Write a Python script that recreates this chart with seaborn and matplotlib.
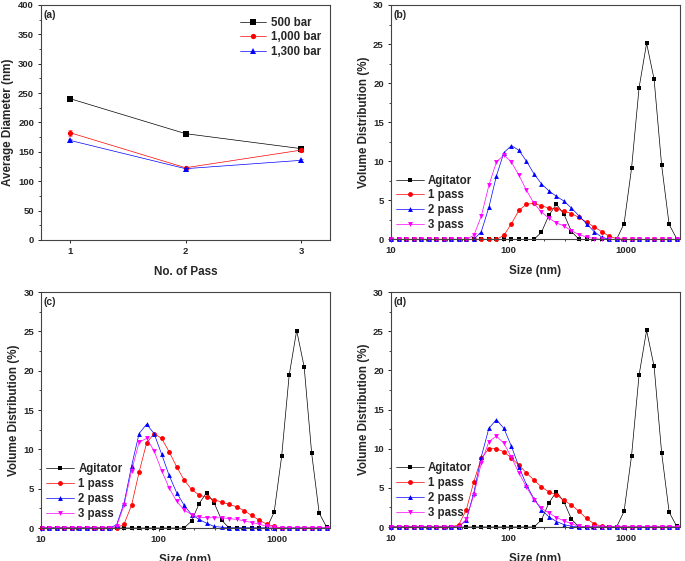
import matplotlib
matplotlib.use("Agg")
from matplotlib import pyplot as plt
from matplotlib.ticker import MultipleLocator, LogLocator, NullFormatter
import pandas as pd
import seaborn as sns

# ------------------------------------------------------------------
# data

passes = [1, 2, 3]
diam_500 = [240.6, 181.0, 155.5]
diam_1000 = [182.7, 123.0, 153.0]
diam_1300 = [169.6, 121.4, 135.6]
err_500 = [4, 3, 3]
err_1000 = [5, 2, 3]
err_1300 = [3, 2, 2]

# size classes of the DLS instrument (nm)
sizes = [10.10, 11.70, 13.54, 15.69, 18.17, 21.04, 24.36, 28.21, 32.67, 37.84,
         43.82, 50.75, 58.77, 68.06, 78.82, 91.28, 105.7, 122.4, 141.8, 164.2,
         190.1, 220.2, 255.0, 295.3, 342.0, 396.1, 458.7, 531.2, 615.1, 712.4,
         825.0, 955.4, 1106, 1281, 1484, 1718, 1990, 2305, 2669]

agitator = [0, 0, 0, 0, 0, 0, 0, 0, 0, 0,
            0, 0, 0, 0, 0, 0, 0, 0, 0, 0,
            0.9, 3.1, 4.5, 3.2, 1.0, 0, 0, 0, 0, 0,
            0, 2.0, 9.1, 19.4, 25.1, 20.5, 9.5, 1.9, 0.1]

# (b) 500 bar
b_pass1 = [0, 0, 0, 0, 0, 0, 0, 0, 0, 0,
           0, 0, 0, 0, 0, 0.5, 2.0, 3.7, 4.5, 4.6,
           4.3, 4.0, 3.9, 3.6, 3.3, 2.8, 2.2, 1.6, 1.0, 0.4,
           0.1, 0, 0, 0, 0, 0, 0, 0, 0]
b_pass2 = [0, 0, 0, 0, 0, 0, 0, 0, 0, 0,
           0, 0, 1.0, 4.1, 8.1, 11.1, 12.0, 11.4, 10.0, 8.4,
           7.1, 6.2, 5.5, 4.9, 4.0, 3.0, 2.0, 1.0, 0.3, 0,
           0, 0, 0, 0, 0, 0, 0, 0, 0]
b_pass3 = [0, 0, 0, 0, 0, 0, 0, 0, 0, 0,
           0, 0.5, 3.0, 6.9, 9.9, 10.8, 9.9, 8.2, 6.3, 4.6,
           3.5, 2.7, 2.1, 1.7, 1.1, 0.6, 0.3, 0.1, 0, 0,
           0, 0, 0, 0, 0, 0, 0, 0, 0]

# (c) 1,000 bar
c_pass1 = [0, 0, 0, 0, 0, 0, 0, 0, 0, 0,
           0, 0.5, 2.9, 7.1, 10.8, 12.0, 11.4, 9.7, 7.8, 6.1,
           4.9, 4.2, 3.9, 3.6, 3.3, 3.0, 2.7, 2.2, 1.6, 1.0,
           0.5, 0.2, 0, 0, 0, 0, 0, 0, 0]
c_pass2 = [0, 0, 0, 0, 0, 0, 0, 0, 0, 0,
           0.4, 3.2, 7.9, 12.0, 13.2, 12.0, 9.4, 6.7, 4.5, 2.9,
           1.7, 1.1, 0.6, 0.2, 0.1, 0, 0, 0, 0, 0,
           0, 0, 0, 0, 0, 0, 0, 0, 0]
c_pass3 = [0, 0, 0, 0, 0, 0, 0, 0, 0, 0,
           0.2, 2.9, 7.3, 10.9, 11.4, 9.8, 7.3, 5.1, 3.4, 2.3,
           1.7, 1.4, 1.3, 1.3, 1.3, 1.2, 1.1, 0.9, 0.7, 0.5,
           0.2, 0.1, 0, 0, 0, 0, 0, 0, 0]

# (d) 1,300 bar
d_pass1 = [0, 0, 0, 0, 0, 0, 0, 0, 0, 0.3,
           2.2, 5.8, 8.8, 10.0, 10.0, 9.6, 8.8, 7.9, 6.9, 6.0,
           5.1, 4.5, 4.1, 3.4, 2.8, 2.0, 1.1, 0.4, 0.1, 0,
           0, 0, 0, 0, 0, 0, 0, 0, 0]
d_pass2 = [0, 0, 0, 0, 0, 0, 0, 0, 0, 0,
           0.9, 4.4, 9.0, 12.6, 13.7, 12.6, 10.3, 7.7, 5.4, 3.6,
           2.2, 1.3, 0.7, 0.3, 0.1, 0, 0, 0, 0, 0,
           0, 0, 0, 0, 0, 0, 0, 0, 0]
d_pass3 = [0, 0, 0, 0, 0, 0, 0, 0, 0, 0,
           1.0, 4.1, 8.2, 10.9, 11.6, 10.7, 8.9, 6.9, 5.1, 3.5,
           2.4, 1.8, 1.2, 0.8, 0.4, 0.1, 0, 0, 0, 0,
           0, 0, 0, 0, 0, 0, 0, 0, 0]

sample_names = ['Agitator', '1 pass', '2 pass', '3 pass']
pressure_names = ['500 bar', '1,000 bar', '1,300 bar']

# ------------------------------------------------------------------

sns.set_theme(style='ticks')
plt.rcParams['font.family'] = ['Liberation Sans', 'DejaVu Sans']
plt.rcParams['font.weight'] = 'bold'
plt.rcParams['axes.labelweight'] = 'bold'
plt.rcParams['axes.edgecolor'] = '#444444'
plt.rcParams['axes.linewidth'] = 0.8
plt.rcParams['xtick.major.size'] = 2
plt.rcParams['ytick.major.size'] = 2
plt.rcParams['xtick.minor.size'] = 1.1
plt.rcParams['ytick.minor.size'] = 1.1
plt.rcParams['xtick.major.width'] = 0.7
plt.rcParams['ytick.major.width'] = 0.7
plt.rcParams['xtick.minor.width'] = 0.6
plt.rcParams['ytick.minor.width'] = 0.6
plt.rcParams['xtick.labelsize'] = 6.8
plt.rcParams['ytick.labelsize'] = 6.8
plt.rcParams['xtick.major.pad'] = 3
plt.rcParams['ytick.major.pad'] = 3

colors = ['black', 'red', 'blue', 'magenta']
marks = ['s', 'o', '^', 'v']

fig = plt.figure(figsize=(6.85, 5.61), dpi=100)
ax_a = fig.add_axes([0.0599, 0.5722, 0.4219, 0.4189])
ax_b = fig.add_axes([0.5704, 0.5734, 0.4223, 0.4177])
ax_c = fig.add_axes([0.0599, 0.0588, 0.4219, 0.4207])
ax_d = fig.add_axes([0.5704, 0.0606, 0.4223, 0.4189])


# ---- (a) average diameter vs pass --------------------------------

df_a = pd.DataFrame({
    'pass': passes * 3,
    'diam': diam_500 + diam_1000 + diam_1300,
    'pressure': [p for p in pressure_names for _ in passes],
})
errs = [err_500, err_1000, err_1300]
ys = [diam_500, diam_1000, diam_1300]
for y, e, c in zip(ys, errs, colors[:3]):
    ax_a.errorbar(passes, y, yerr=e, fmt='none', ecolor=c, elinewidth=0.6,
                  capsize=1.5, capthick=0.6, alpha=0.6)

sns.lineplot(data=df_a, x='pass', y='diam', hue='pressure', style='pressure',
             hue_order=pressure_names, style_order=pressure_names,
             palette=dict(zip(pressure_names, colors[:3])),
             markers=dict(zip(pressure_names, marks[:3])), dashes=False,
             linewidth=0.5, markersize=3.8, markeredgewidth=0, ax=ax_a)

ax_a.set_xlim(0.75, 3.25)
ax_a.set_ylim(0, 400)
ax_a.set_xticks([1, 2, 3])
ax_a.yaxis.set_major_locator(MultipleLocator(50))
ax_a.yaxis.set_minor_locator(MultipleLocator(25))
ax_a.set_xlabel('No. of Pass', fontsize=8.4, labelpad=7)
ax_a.set_ylabel('Average Diameter (nm)', fontsize=8.4, labelpad=3)
h, l = ax_a.get_legend_handles_labels()
ax_a.legend(h, l, loc='upper right', frameon=False, fontsize=8.3,
            handlelength=2.3, handletextpad=0.4, labelspacing=0.25,
            borderaxespad=0.4, bbox_to_anchor=(1.0, 0.99))
ax_a.text(0.01, 0.957, '(a)', transform=ax_a.transAxes, fontsize=7.5,
          fontweight='bold', va='center', ha='left')


# ---- (b)-(d) volume distributions --------------------------------

def draw_distribution(ax, p1, p2, p3, tag):
    df = pd.DataFrame({
        'size': sizes * 4,
        'vol': agitator + p1 + p2 + p3,
        'sample': [s for s in sample_names for _ in sizes],
    })
    sns.lineplot(data=df, x='size', y='vol', hue='sample', style='sample',
                 hue_order=sample_names, style_order=sample_names,
                 palette=dict(zip(sample_names, colors)),
                 markers=dict(zip(sample_names, marks)), dashes=False,
                 linewidth=0.5, markersize=3.5, markeredgewidth=0, ax=ax)
    for ln in ax.lines:
        ln.set_clip_on(False)

    ax.set_xscale('log')
    ax.set_xlim(10, 2850)
    ax.set_ylim(0, 30)
    ax.set_xticks([10, 100, 1000])
    ax.set_xticklabels(['10', '100', '1000'])
    ax.xaxis.set_minor_locator(LogLocator(base=10, subs=range(2, 10)))
    ax.xaxis.set_minor_formatter(NullFormatter())
    ax.yaxis.set_major_locator(MultipleLocator(5))
    ax.yaxis.set_minor_locator(MultipleLocator(2.5))
    ax.set_xlabel('Size (nm)', fontsize=8.4, labelpad=7)
    ax.set_ylabel('Volume Distribution (%)', fontsize=8.4, labelpad=2.5)

    h, l = ax.get_legend_handles_labels()
    ax.legend(h, l, loc='lower left', frameon=False, fontsize=8.3,
              handlelength=2.4, handletextpad=0.4, labelspacing=0.25,
              borderaxespad=0.3, bbox_to_anchor=(-0.01, 0.0))
    ax.text(0.01, 0.957, tag, transform=ax.transAxes, fontsize=7.5,
            fontweight='bold', va='center', ha='left')


draw_distribution(ax_b, b_pass1, b_pass2, b_pass3, '(b)')
draw_distribution(ax_c, c_pass1, c_pass2, c_pass3, '(c)')
draw_distribution(ax_d, d_pass1, d_pass2, d_pass3, '(d)')

fig.savefig('out.png', dpi=100)
